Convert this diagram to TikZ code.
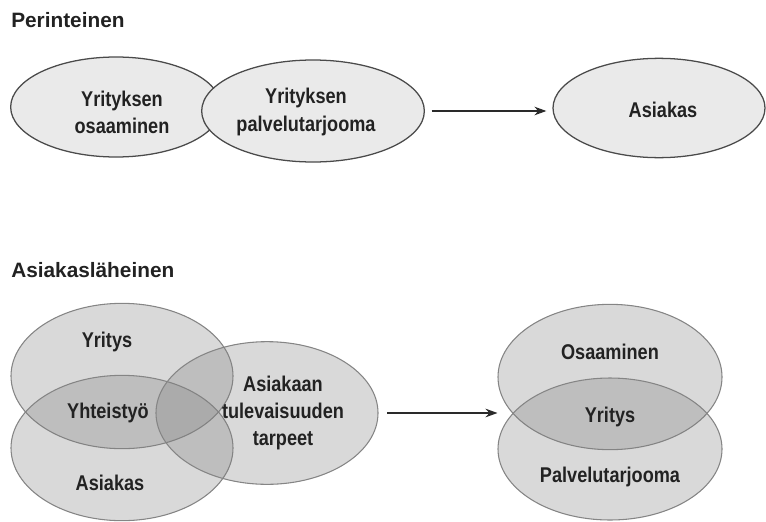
\documentclass[tikz,border=0pt]{standalone}
\usepackage{fontspec}
\setmainfont{Liberation Sans}
\newfontfamily\condfont[FakeStretch=0.85]{Liberation Sans}
\usetikzlibrary{shapes.geometric,arrows.meta,calc}
\definecolor{txt}{HTML}{222222}
\definecolor{topedge}{HTML}{4A4A4A}
\definecolor{topfill}{HTML}{EAEAEA}
\definecolor{botedge}{HTML}{858585}
\definecolor{arrowc}{HTML}{2A2A2A}
\begin{document}
\begin{tikzpicture}[x=0.75pt,y=-0.75pt,
  topell/.style={ellipse, draw=topedge, fill=topfill, line width=0.95pt, inner sep=0pt},
  botell/.style={ellipse, draw=botedge, fill=gray, fill opacity=0.3, draw opacity=1, line width=0.8pt, inner sep=0pt},
  lbl/.style={font=\condfont\bfseries\fontsize{16}{20.4}\selectfont, text=txt, align=center, inner sep=0pt},
  ttl/.style={font=\bfseries\fontsize{15.6}{18}\selectfont, text=txt, anchor=west, inner sep=0pt},
  conn/.style={draw=arrowc, line width=0.9pt, -{Stealth[length=9pt,width=6.5pt]}}]
\useasboundingbox (0,0) rectangle (766,521);

% titles
\node[ttl] (t1) at (11,20) {Perinteinen};
\node[ttl] (t2) at (11,270) {Asiakasläheinen};

% top row
\node[topell, minimum width=158pt, minimum height=75pt] (e1) at (116,107) {};
\node[topell, minimum width=167pt, minimum height=76.5pt] (e2) at (313,111) {};
\node[topell, minimum width=159pt, minimum height=74.5pt] (e3) at (659,108) {};
\node[lbl] (l1) at (122,112) {Yrityksen\\osaaminen};
\node[lbl] (l2) at (306,112) {Yrityksen\\palvelutarjooma};
\node[lbl] (l3) at (663,110) {Asiakas};
\draw[conn, shorten <=5pt, shorten >=4.5pt] (e2.east) -- (e2.east -| e3.west);

% bottom left venn
\node[botell, minimum width=166.5pt, minimum height=109pt] (b1) at (122,376) {};
\node[botell, minimum width=166.5pt, minimum height=109pt] (b2) at (122,448) {};
\node[botell, minimum width=166.5pt, minimum height=107pt] (b3) at (267,413) {};
\node[lbl] (m1) at (107,342) {Yritys};
\node[lbl] (m2) at (108,413) {Yhteistyö};
\node[lbl] (m3) at (110,483) {Asiakas};
\node[lbl] (m4) at (283,413) {Asiakaan\\tulevaisuuden\\tarpeet};

% bottom right
\node[botell, minimum width=168pt, minimum height=109pt] (r1) at (610,377) {};
\node[botell, minimum width=168pt, minimum height=106.5pt] (r2) at (610,449) {};
\node[lbl] (n1) at (610,352) {Osaaminen};
\node[lbl] (n2) at (610,417) {Yritys};
\node[lbl] (n3) at (610,477) {Palvelutarjooma};

\draw[conn, shorten <=6.5pt] (b3.east) -- (b3.east -| r1.west);
\end{tikzpicture}
\end{document}
